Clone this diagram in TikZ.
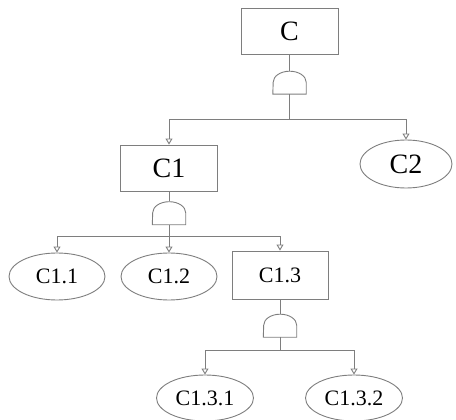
\documentclass[tikz,border=0pt]{standalone}
\usepackage{fontspec}
\setmainfont{Liberation Serif}
\usetikzlibrary{shapes.geometric,arrows.meta}
\definecolor{ln}{HTML}{7E7E7E}
\tikzset{
  x=1pt,y=-1pt,
  line/.style={draw=ln,line width=0.9pt},
  arr/.style={line,-{Triangle[open,length=6pt,width=7pt]}},
  bigbox/.style={line,rectangle,minimum width=97pt,minimum height=46pt,inner sep=0pt,font=\fontsize{28}{30}\selectfont},
  smallbox/.style={line,rectangle,minimum width=96pt,minimum height=48pt,inner sep=0pt,font=\fontsize{22}{24}\selectfont},
  oval/.style={line,ellipse,minimum width=96pt,minimum height=47pt,inner sep=0pt,font=\fontsize{22}{24}\selectfont},
  bigoval/.style={oval,minimum width=92pt,minimum height=48pt,font=\fontsize{28}{30}\selectfont},
  gate/.style={rectangle,minimum width=33pt,minimum height=23pt,inner sep=0pt},
}
\begin{document}
\begin{tikzpicture}
\useasboundingbox (0,0) rectangle (456,420);
\node[bigbox] (C) at (289.5,31.5) {C};
\node[gate] (g0) at (289.5,82.5) {};
\coordinate (j0) at (289.5,119);
\node[bigbox] (C1) at (169,168) {C1};
\node[bigoval] (C2) at (406,164) {C2};
\node[gate] (g1) at (169,213) {};
\coordinate (j1) at (169,236);
\node[oval] (C11) at (57,276.5) {C1.1};
\node[oval] (C12) at (169,276.5) {C1.2};
\node[smallbox] (C13) at (280,275) {C1.3};
\node[gate] (g2) at (280,325.5) {};
\coordinate (j2) at (280,350);
\node[oval,minimum width=97pt,minimum height=46pt] (C131) at (205,398) {C1.3.1};
\node[oval,minimum width=97pt,minimum height=46pt] (C132) at (354,398) {C1.3.2};
\foreach \g in {g0,g1,g2}
  \draw[line] (\g.south west) -- (\g.south east) -- ([yshift=12pt]\g.south east)
    arc[start angle=0,end angle=180,x radius=16.5pt,y radius=11pt] -- cycle;
\draw[line] (C.south) -- (g0.north);
\draw[line] (g0.south) -- (j0);
\draw[arr] (j0) -| (C1.north);
\draw[arr] (j0) -| (C2.north);
\draw[line] (C1.south) -- (g1.north);
\draw[line] (g1.south) -- (j1);
\draw[arr] (j1) -| (C11.north);
\draw[arr] (j1) -- (C12.north);
\draw[arr] (j1) -| (C13.north);
\draw[line] (C13.south) -- (g2.north);
\draw[line] (g2.south) -- (j2);
\draw[arr] (j2) -| (C131.north);
\draw[arr] (j2) -| (C132.north);
\end{tikzpicture}
\end{document}
